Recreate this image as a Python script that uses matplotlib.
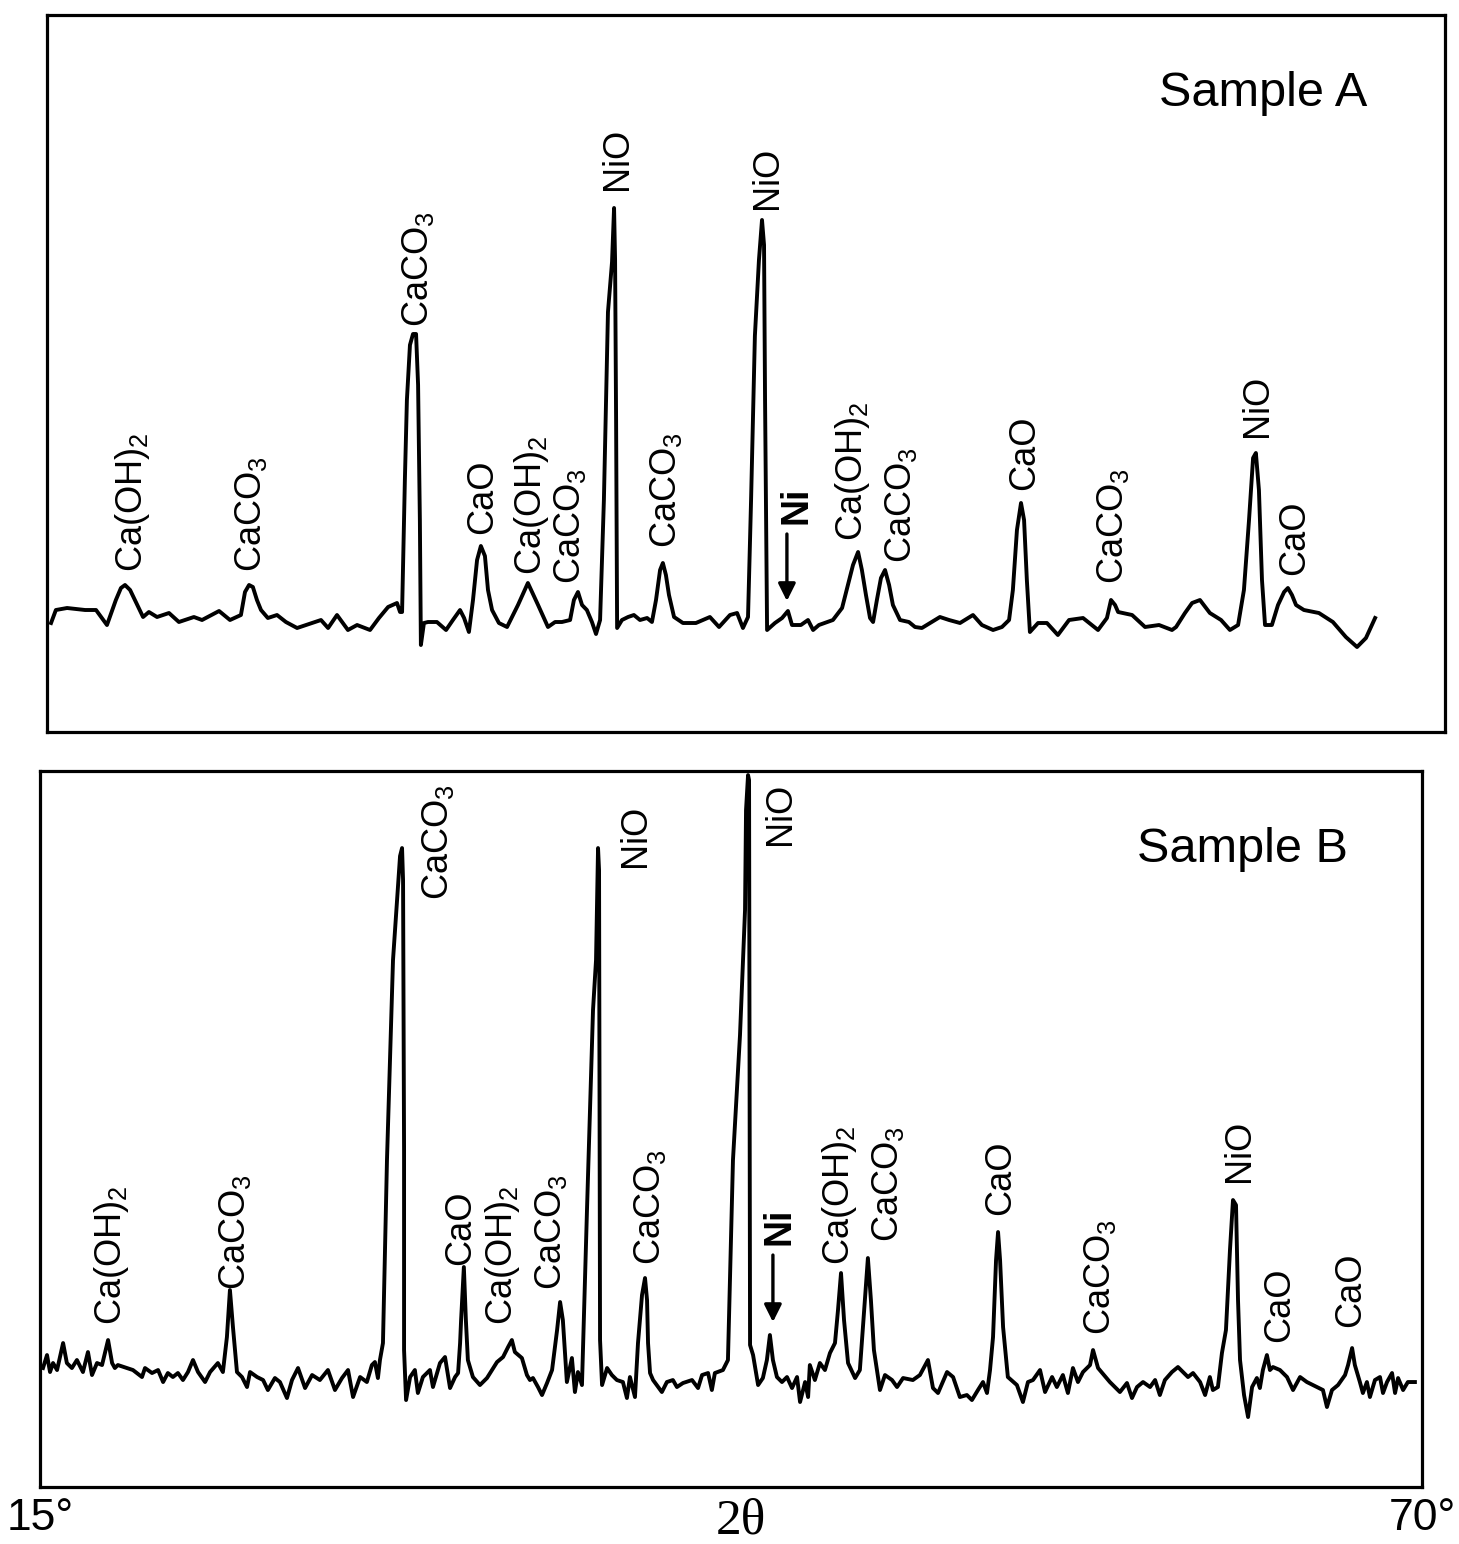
import matplotlib.pyplot as plt

plt.rcParams['font.family'] = ['Liberation Sans', 'DejaVu Sans']
plt.rcParams['mathtext.default'] = 'regular'

##### XRD traces: (2theta in degrees, intensity in arb. units) #####
sample_a = [
    (15.16, 109), (15.35, 122), (15.79, 124), (16.50, 122), (16.93, 122), (17.36, 107), (17.71, 132),
    (17.91, 144), (18.07, 147), (18.27, 142), (18.42, 134), (18.78, 115), (19.01, 120), (19.33, 115),
    (19.80, 119), (20.19, 110), (20.78, 115), (21.10, 112), (21.77, 121), (22.20, 112), (22.63, 117),
    (22.79, 140), (22.95, 147), (23.10, 145), (23.26, 132), (23.42, 122), (23.69, 114), (24.05, 117),
    (24.40, 110), (24.84, 104), (25.43, 109), (25.78, 112), (26.06, 104), (26.41, 117), (26.84, 102),
    (27.20, 107), (27.71, 102), (28.06, 114), (28.42, 125), (28.77, 129), (28.89, 120), (28.97, 120),
    (29.08, 252), (29.16, 332), (29.28, 387), (29.40, 398), (29.52, 398), (29.60, 347), (29.67, 212),
    (29.71, 87), (29.83, 109), (29.99, 110), (30.34, 110), (30.70, 102), (30.97, 112), (31.25, 122),
    (31.41, 114), (31.60, 100), (31.76, 132), (31.92, 172), (32.07, 186), (32.23, 176), (32.35, 142),
    (32.51, 122), (32.78, 109), (33.10, 105), (33.53, 127), (33.92, 149), (34.32, 127), (34.71, 105),
    (34.99, 110), (35.26, 110), (35.58, 112), (35.73, 132), (35.89, 140), (36.05, 127), (36.24, 122),
    (36.44, 110), (36.60, 98), (36.76, 112), (36.91, 232), (37.07, 420), (37.23, 470), (37.31, 524),
    (37.35, 472), (37.39, 312), (37.43, 104), (37.62, 112), (37.86, 115), (38.09, 117), (38.33, 112),
    (38.61, 114), (38.80, 110), (38.96, 132), (39.12, 162), (39.23, 169), (39.35, 157), (39.47, 137),
    (39.67, 115), (40.02, 109), (40.53, 109), (41.08, 115), (41.44, 105), (41.87, 117), (42.15, 119),
    (42.38, 104), (42.58, 115), (42.70, 232), (42.85, 396), (43.01, 472), (43.13, 512), (43.21, 487),
    (43.25, 332), (43.33, 102), (43.64, 109), (43.92, 114), (44.15, 121), (44.31, 107), (44.66, 107),
    (44.94, 112), (45.14, 102), (45.37, 107), (45.92, 112), (46.28, 124), (46.51, 147), (46.71, 167),
    (46.91, 180), (47.06, 162), (47.22, 137), (47.38, 114), (47.50, 110), (47.65, 132), (47.81, 154),
    (47.97, 162), (48.13, 147), (48.28, 127), (48.56, 112), (48.91, 110), (49.15, 105), (49.42, 104),
    (50.13, 115), (50.49, 112), (50.92, 109), (51.43, 117), (51.78, 107), (52.22, 102), (52.57, 105),
    (52.85, 112), (53.00, 142), (53.16, 202), (53.32, 229), (53.44, 212), (53.55, 152), (53.67, 100),
    (53.99, 109), (54.34, 109), (54.77, 97), (55.21, 112), (55.76, 114), (56.35, 102), (56.70, 114),
    (56.86, 132), (57.02, 127), (57.14, 120), (57.69, 117), (58.20, 105), (58.75, 107), (59.26, 102),
    (59.42, 105), (59.77, 119), (60.05, 129), (60.36, 132), (60.75, 119), (61.19, 112), (61.54, 102),
    (61.86, 107), (62.09, 142), (62.29, 212), (62.45, 274), (62.56, 279), (62.68, 242), (62.80, 152),
    (62.92, 107), (63.19, 107), (63.43, 127), (63.67, 140), (63.82, 144), (63.98, 137), (64.14, 127),
    (64.45, 122), (65.04, 119), (65.59, 110), (66.10, 95), (66.54, 85), (66.89, 94), (67.25, 114),
]

sample_b = [
    (15.12, 119), (15.28, 132), (15.40, 115), (15.52, 124), (15.68, 117), (15.92, 144), (16.07, 124),
    (16.27, 119), (16.47, 127), (16.71, 115), (16.91, 135), (17.07, 112), (17.27, 124), (17.47, 122),
    (17.71, 147), (17.87, 124), (17.98, 119), (18.10, 122), (18.46, 119), (18.70, 117), (19.06, 110),
    (19.18, 119), (19.46, 114), (19.70, 117), (19.90, 105), (20.09, 114), (20.29, 110), (20.49, 114),
    (20.69, 107), (20.89, 115), (21.09, 127), (21.29, 115), (21.57, 105), (21.77, 115), (22.08, 124),
    (22.28, 115), (22.44, 150), (22.56, 197), (22.68, 160), (22.84, 115), (23.04, 110), (23.24, 100),
    (23.36, 115), (23.64, 110), (23.88, 107), (24.07, 97), (24.35, 109), (24.55, 105), (24.83, 89),
    (25.03, 107), (25.27, 119), (25.55, 99), (25.83, 112), (26.14, 107), (26.46, 117), (26.74, 97),
    (27.02, 109), (27.26, 117), (27.46, 90), (27.74, 110), (28.01, 105), (28.21, 122), (28.33, 125),
    (28.45, 109), (28.53, 127), (28.65, 144), (28.81, 327), (29.05, 527), (29.25, 602), (29.33, 631),
    (29.41, 639), (29.45, 607), (29.49, 337), (29.49, 137), (29.57, 87), (29.73, 110), (29.92, 117),
    (30.04, 94), (30.24, 110), (30.52, 117), (30.64, 100), (30.92, 124), (31.12, 130), (31.32, 99),
    (31.52, 110), (31.64, 114), (31.72, 144), (31.76, 167), (31.87, 220), (31.95, 167), (32.03, 127),
    (32.23, 110), (32.51, 102), (32.79, 109), (33.19, 125), (33.43, 130), (33.63, 140), (33.78, 147),
    (33.90, 135), (34.18, 129), (34.38, 112), (34.50, 107), (34.62, 109), (34.82, 100), (34.98, 92),
    (35.18, 104), (35.38, 117), (35.58, 157), (35.70, 185), (35.81, 167), (35.97, 105), (36.17, 129),
    (36.29, 95), (36.41, 115), (36.57, 102), (36.77, 277), (37.01, 477), (37.13, 527), (37.21, 639),
    (37.25, 617), (37.29, 147), (37.37, 102), (37.57, 119), (37.76, 112), (37.96, 107), (38.20, 105),
    (38.36, 89), (38.48, 110), (38.68, 90), (38.80, 144), (38.96, 192), (39.08, 209), (39.16, 187),
    (39.20, 144), (39.28, 114), (39.40, 107), (39.75, 95), (39.95, 105), (40.19, 107), (40.35, 100),
    (40.59, 104), (40.95, 107), (41.19, 99), (41.35, 112), (41.59, 114), (41.74, 97), (41.86, 114),
    (42.18, 117), (42.38, 127), (42.58, 327), (42.86, 452), (43.06, 577), (43.10, 677), (43.18, 712),
    (43.22, 707), (43.26, 142), (43.38, 132), (43.58, 102), (43.77, 109), (43.93, 127), (44.05, 152),
    (44.17, 127), (44.33, 110), (44.53, 105), (44.73, 110), (44.93, 99), (45.13, 110), (45.25, 85),
    (45.45, 105), (45.57, 90), (45.64, 122), (45.84, 107), (46.04, 124), (46.24, 117), (46.44, 134),
    (46.64, 144), (46.76, 177), (46.88, 214), (47.00, 167), (47.16, 124), (47.44, 109), (47.63, 117),
    (47.83, 187), (47.95, 229), (48.07, 187), (48.19, 137), (48.31, 117), (48.43, 97), (48.63, 112),
    (48.91, 107), (49.11, 100), (49.35, 109), (49.74, 107), (50.02, 112), (50.34, 127), (50.54, 99),
    (50.74, 94), (51.10, 115), (51.34, 110), (51.61, 90), (51.89, 92), (52.09, 87), (52.33, 97),
    (52.53, 105), (52.69, 94), (52.81, 117), (52.93, 150), (53.05, 227), (53.13, 255), (53.21, 227),
    (53.33, 160), (53.52, 110), (53.88, 102), (54.12, 85), (54.32, 105), (54.52, 107), (54.80, 117),
    (55.00, 95), (55.28, 110), (55.47, 100), (55.71, 112), (55.91, 94), (56.11, 119), (56.31, 105),
    (56.51, 115), (56.79, 122), (56.91, 137), (57.11, 119), (57.58, 105), (57.98, 95), (58.26, 104),
    (58.46, 89), (58.66, 100), (58.90, 105), (59.18, 100), (59.38, 107), (59.57, 92), (59.77, 107),
    (60.05, 115), (60.29, 120), (60.49, 115), (60.69, 110), (60.89, 114), (61.17, 105), (61.37, 92),
    (61.56, 110), (61.68, 97), (61.88, 100), (62.04, 134), (62.20, 157), (62.36, 237), (62.48, 287),
    (62.60, 282), (62.68, 187), (62.76, 127), (62.92, 92), (63.08, 70), (63.24, 100), (63.43, 109),
    (63.55, 99), (63.67, 117), (63.83, 132), (63.95, 117), (64.07, 120), (64.35, 117), (64.63, 110),
    (64.87, 97), (65.15, 110), (65.42, 105), (65.82, 100), (66.06, 97), (66.22, 80), (66.42, 97),
    (66.66, 102), (66.94, 112), (67.06, 122), (67.22, 139), (67.33, 122), (67.53, 105), (67.65, 94),
    (67.81, 105), (67.93, 90), (68.13, 107), (68.33, 110), (68.45, 94), (68.61, 105), (68.81, 114),
    (68.93, 94), (69.05, 109), (69.25, 97), (69.44, 105), (69.72, 105),
]

##### phase labels: (text, 2theta, intensity where the label starts) #####
labels_a = [
    ('Ca(OH)$_2$', 17.60, 160), ('CaCO$_3$', 22.32, 160), ('CaCO$_3$', 28.89, 405),
    ('CaO', 31.45, 198), ('Ca(OH)$_2$', 33.29, 157), ('CaCO$_3$', 34.87, 148),
    ('NiO', 36.76, 542), ('CaCO$_3$', 38.64, 184), ('NiO', 42.66, 523), ('Ni', 43.76, 208),
    ('Ca(OH)$_2$', 45.92, 191), ('CaCO$_3$', 47.89, 169), ('CaO', 52.77, 242),
    ('CaCO$_3$', 56.23, 148), ('NiO', 61.94, 295), ('CaO', 63.39, 157),
]
labels_b = [
    ('Ca(OH)$_2$', 17.07, 162), ('CaCO$_3$', 22.04, 197), ('CaCO$_3$', 30.12, 587),
    ('CaO', 31.04, 222), ('Ca(OH)$_2$', 32.63, 162), ('CaCO$_3$', 34.62, 197),
    ('NiO', 38.00, 620), ('CaCO$_3$', 38.56, 222), ('NiO', 43.77, 642), ('Ni', 43.73, 242),
    ('Ca(OH)$_2$', 46.04, 222), ('CaCO$_3$', 48.03, 245), ('CaO', 52.53, 272),
    ('CaCO$_3$', 56.47, 152), ('NiO', 62.04, 305), ('CaO', 63.63, 145), ('CaO', 66.46, 160),
]
# Ni arrow: (2theta, from intensity, to intensity)
ni_arrow_a = (44.11, 198, 131)
ni_arrow_b = (44.17, 232, 165)


def draw_panel(ax, trace, labels, arrow, name, ytop):
    x = [p[0] for p in trace]
    y = [p[1] for p in trace]
    ax.plot(x, y, color='black', lw=2.8, solid_joinstyle='round')
    ax.set_xlim(15, 70)
    ax.set_ylim(0, ytop)
    ax.set_yticks([])
    for s in ax.spines.values():
        s.set_linewidth(2.3)
    for txt, tx, ty in labels:
        if txt == 'Ni':
            ax.text(tx, ty, txt, rotation=90, ha='left', va='bottom', fontsize=27, fontweight='bold')
        else:
            ax.text(tx, ty, txt, rotation=90, ha='left', va='bottom', fontsize=26)
    ax.annotate('', xy=(arrow[0], arrow[2]), xytext=(arrow[0], arrow[1]),
                arrowprops=dict(arrowstyle='-|>', color='black', lw=2.4,
                                mutation_scale=26, shrinkA=0, shrinkB=0))
    ax.text(0.87, 0.89, name, transform=ax.transAxes, ha='center', va='center', fontsize=35)


fig = plt.figure(figsize=(14.59, 15.44), dpi=100)
ax_a = fig.add_axes([0.0322, 0.5259, 0.9582, 0.4644])
ax_b = fig.add_axes([0.0274, 0.0369, 0.9472, 0.4637])

draw_panel(ax_a, sample_a, labels_a, ni_arrow_a, 'Sample A', 717)
draw_panel(ax_b, sample_b, labels_b, ni_arrow_b, 'Sample B', 716)

ax_a.set_xticks([])
ax_b.set_xticks([15, 42.9, 70], ['15°', '2θ', '70°'])
ax_b.tick_params(axis='x', length=0, pad=8, labelsize=32)
ax_b.get_xticklabels()[1].set_fontfamily('Liberation Serif')
ax_b.get_xticklabels()[1].set_fontsize(37)

fig.savefig('out.png', dpi=100, facecolor='white')
